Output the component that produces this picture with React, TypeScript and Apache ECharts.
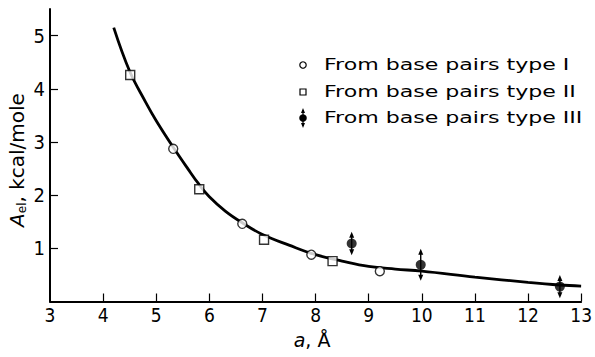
import React, { useEffect, useRef } from "react";
import * as echarts from "echarts";

// Data
const typeI: number[][] = [
  [5.32, 2.87],
  [6.62, 1.46],
  [7.92, 0.88],
  [9.21, 0.57],
];
const typeII: number[][] = [
  [4.51, 4.26],
  [5.81, 2.11],
  [7.03, 1.16],
  [8.32, 0.76],
];
const typeIII: number[][] = [
  [8.68, 1.09],
  [9.98, 0.69],
  [12.6, 0.28],
];
const typeIIIErr: number[] = [0.22, 0.3, 0.22];
const fitCurve: number[][] = [
  [4.2, 5.15],
  [4.5, 4.33],
  [4.8, 3.75],
  [5.0, 3.4],
  [5.32, 2.9],
  [5.6, 2.49],
  [5.8, 2.21],
  [6.0, 1.97],
  [6.3, 1.7],
  [6.62, 1.48],
  [7.0, 1.26],
  [7.5, 1.06],
  [8.0, 0.88],
  [8.5, 0.76],
  [9.0, 0.66],
  [9.5, 0.61],
  [10, 0.57],
  [11, 0.46],
  [12, 0.36],
  [12.6, 0.31],
  [13, 0.29],
];
const xLabels = [3, 4, 5, 6, 7, 8, 9, 10, 11, 12, 13];
const xTicks = [4, 5, 6, 7, 8, 9, 10, 11, 12, 13];
const yLabels = [1, 2, 3, 4, 5];
const legendNames = [
  "From base pairs type I",
  "From base pairs type II",
  "From base pairs type III",
];

const FONT = "'DejaVu Sans', sans-serif";
const NARROW = "'Liberation Sans Narrow', 'DejaVu Sans Condensed', 'Liberation Sans', sans-serif";

function renderErr(params: any, api: any) {
  const x = api.value(0);
  const y = api.value(1);
  const e = api.value(2);
  const top = api.coord([x, y + e]);
  const bot = api.coord([x, y - e]);
  return {
    type: "group",
    children: [
      {
        type: "line",
        shape: { x1: top[0], y1: top[1] + 3, x2: bot[0], y2: bot[1] - 3 },
        style: { stroke: "#000", lineWidth: 1.4 },
      },
      {
        type: "polygon",
        shape: {
          points: [
            [top[0], top[1]],
            [top[0] - 2.5, top[1] + 6],
            [top[0] + 2.5, top[1] + 6],
          ],
        },
        style: { fill: "#000" },
      },
      {
        type: "polygon",
        shape: {
          points: [
            [bot[0], bot[1]],
            [bot[0] - 2.5, bot[1] - 6],
            [bot[0] + 2.5, bot[1] - 6],
          ],
        },
        style: { fill: "#000" },
      },
    ],
  };
}

export default function App() {
  const ref = useRef<HTMLDivElement>(null);
  useEffect(() => {
    document.body.style.margin = "0";
    if (!ref.current) return;
    const chart = echarts.init(ref.current, null, { renderer: "svg" });
    const legendY = [65, 92, 118];
    const legendTextScale = 1.38;
    const graphics: any[] = [
      // legend symbols
      {
        type: "circle",
        shape: { cx: 303, cy: legendY[0], r: 3.2 },
        style: { fill: "#fff", stroke: "#000", lineWidth: 1.2 },
      },
      {
        type: "rect",
        shape: { x: 300, y: legendY[1] - 3, width: 6, height: 6 },
        style: { fill: "#fff", stroke: "#000", lineWidth: 1.2 },
      },
      {
        type: "circle",
        shape: { cx: 303, cy: legendY[2], r: 3.8 },
        style: { fill: "#000" },
      },
      {
        type: "line",
        shape: { x1: 303, y1: legendY[2] - 8, x2: 303, y2: legendY[2] + 8 },
        style: { stroke: "#000", lineWidth: 1.2 },
      },
      {
        type: "polygon",
        shape: {
          points: [
            [303, legendY[2] - 10],
            [301, legendY[2] - 5],
            [305, legendY[2] - 5],
          ],
        },
        style: { fill: "#000" },
      },
      {
        type: "polygon",
        shape: {
          points: [
            [303, legendY[2] + 10],
            [301, legendY[2] + 5],
            [305, legendY[2] + 5],
          ],
        },
        style: { fill: "#000" },
      },
      ...legendNames.map((t, i) => ({
        type: "text",
        x: 324,
        y: legendY[i],
        scaleX: legendTextScale,
        style: {
          text: t,
          font: `16px ${FONT}`,
          fill: "#000",
          align: "left",
          verticalAlign: "middle",
        },
      })),
      // y axis title
      {
        type: "text",
        x: 17,
        y: 160,
        rotation: Math.PI / 2,
        style: {
          text: "{i|A}{s|el}, kcal/mole",
          font: `20px ${FONT}`,
          fill: "#000",
          align: "center",
          verticalAlign: "middle",
          rich: {
            i: { fontStyle: "italic", fontSize: 20, fontFamily: "DejaVu Sans" },
            s: {
              fontSize: 12,
              fontFamily: "DejaVu Sans",
              verticalAlign: "bottom",
              padding: [9, 0, 0, 0],
            },
          },
        },
      },
      // x axis title
      {
        type: "text",
        x: 312,
        y: 340,
        style: {
          text: "{i|a}, Å",
          font: `19px ${FONT}`,
          fill: "#000",
          align: "center",
          verticalAlign: "middle",
          rich: {
            i: { fontStyle: "italic", fontSize: 19, fontFamily: "DejaVu Sans" },
          },
        },
      },
    ];

    chart.setOption({
      animation: false,
      backgroundColor: "#fff",
      grid: { left: 50, right: 10, top: 9, bottom: 55.5 },
      xAxis: {
        type: "value",
        min: 3,
        max: 13,
        interval: 1,
        axisLine: { show: true, lineStyle: { color: "#000", width: 2 } },
        axisTick: {
          show: true,
          inside: true,
          length: 8,
          customValues: xTicks,
          lineStyle: { color: "#000", width: 1.2 },
        },
        axisLabel: {
          customValues: xLabels,
          color: "#000",
          fontSize: 19,
          fontFamily: NARROW,
          margin: 4,
        },
        splitLine: { show: false },
      },
      yAxis: {
        type: "value",
        min: 0,
        max: 5.5,
        interval: 1,
        axisLine: { show: true, lineStyle: { color: "#000", width: 2 } },
        axisTick: {
          show: true,
          inside: true,
          length: 8,
          customValues: yLabels,
          lineStyle: { color: "#000", width: 1.2 },
        },
        axisLabel: {
          customValues: yLabels,
          color: "#000",
          fontSize: 20,
          fontFamily: NARROW,
          margin: 5,
        },
        splitLine: { show: false },
      },
      series: [
        {
          type: "line",
          data: fitCurve,
          smooth: 0.4,
          showSymbol: false,
          symbol: "none",
          lineStyle: { color: "#000", width: 2.8 },
          z: 2,
        },
        {
          type: "custom",
          data: typeIII.map((p, i) => [p[0], p[1], typeIIIErr[i]]),
          renderItem: renderErr,
          encode: { x: 0, y: 1 },
          z: 3,
        },
        {
          type: "scatter",
          data: typeI,
          symbol: "circle",
          symbolSize: 9,
          itemStyle: { color: "#fff", borderColor: "#000", borderWidth: 1.4 },
          z: 4,
        },
        {
          type: "scatter",
          data: typeII,
          symbol: "rect",
          symbolSize: 9,
          itemStyle: { color: "#fff", borderColor: "#000", borderWidth: 1.4 },
          z: 4,
        },
        {
          type: "scatter",
          data: typeIII,
          symbol: "circle",
          symbolSize: 10,
          itemStyle: { color: "#000" },
          z: 4,
        },
      ],
      graphic: graphics,
    });
    return () => chart.dispose();
  }, []);
  return <div ref={ref} style={{ width: 595, height: 357 }} />;
}
